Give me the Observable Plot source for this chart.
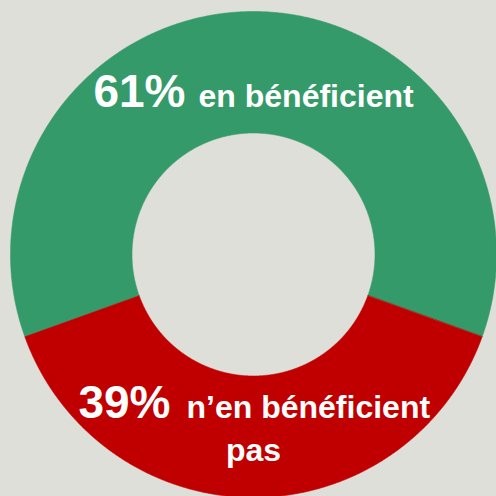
<!DOCTYPE html>
<html><head><meta charset="utf-8">
<script src="https://cdn.jsdelivr.net/npm/d3@7"></script>
<script src="https://cdn.jsdelivr.net/npm/@observablehq/plot@0.6"></script>
<style>html,body{margin:0;padding:0;background:#dfdfda;overflow:hidden}</style>
</head><body><div id="chart"></div>
<script>
// Data
const categories = ["en bénéficient", "n’en bénéficient pas"];
const shares = [61, 39];
const percentLabels = ["61%", "39%"];
const labelFirstLines = ["en bénéficient", "n’en bénéficient"];
const labelSecondLines = ["", "pas"];
const colors = ["#359a69", "#c00000"];

// Geometry (data units: outer radius = 1)
const innerR = 0.5;
const total = d3.sum(shares);
const a0 = Math.PI + (shares[1] / total) * Math.PI; // second slice centred at bottom
const arcs = d3.pie().sort(null).startAngle(a0).endAngle(a0 + 2 * Math.PI)(shares)
  .map((p, i) => ({...p, cat: categories[i], i}));

const step = Math.PI / 720;
const polys = [];
for (const a of arcs) {
  const n = Math.max(2, Math.ceil((a.endAngle - a.startAngle) / step));
  for (let k = 0; k <= n; k++) {
    const t = a.startAngle + (a.endAngle - a.startAngle) * k / n;
    polys.push({cat: a.cat, x: Math.sin(t), y: Math.cos(t)});
  }
  for (let k = n; k >= 0; k--) {
    const t = a.startAngle + (a.endAngle - a.startAngle) * k / n;
    polys.push({cat: a.cat, x: innerR * Math.sin(t), y: innerR * Math.cos(t)});
  }
}
const labelR = (1 + innerR) / 2;
const labels = arcs.map(a => {
  const m = (a.startAngle + a.endAngle) / 2;
  return {x: labelR * Math.sin(m), y: labelR * Math.cos(m), i: a.i};
});

const W = 496, H = 496, R = 243, cx = 253, cy = 254;
const font = "'Liberation Sans', Arial, sans-serif";
const common = {fill: "white", fontWeight: "bold", lineAnchor: "bottom", fontFamily: font};

const chart = Plot.plot({
  width: W, height: H, margin: 0,
  style: {background: "#dfdfda", fontFamily: font},
  x: {domain: [-cx / R, (W - cx) / R], range: [0, W], axis: null},
  y: {domain: [-(H - cy) / R, cy / R], range: [H, 0], axis: null},
  color: {domain: categories, range: colors},
  marks: [
    Plot.line(polys, {x: "x", y: "y", z: "cat", fill: "cat", stroke: "cat", strokeWidth: 0.6, curve: "linear-closed"}),
    // top slice label
    Plot.text([labels[0]], {...common, x: "x", y: "y", text: d => percentLabels[d.i], textAnchor: "end", dx: -68, dy: 35, fontSize: 46}),
    Plot.text([labels[0]], {...common, x: "x", y: "y", text: d => labelFirstLines[d.i], textAnchor: "start", dx: -55, dy: 35, fontSize: 32}),
    // bottom slice label
    Plot.text([labels[1]], {...common, x: "x", y: "y", text: d => percentLabels[d.i], textAnchor: "end", dx: -83, dy: -19, fontSize: 46}),
    Plot.text([labels[1]], {...common, x: "x", y: "y", text: d => labelFirstLines[d.i], textAnchor: "start", dx: -67, dy: -19, fontSize: 32}),
    Plot.text([labels[1]], {...common, x: "x", y: "y", text: d => labelSecondLines[d.i], textAnchor: "middle", dx: 0, dy: 24, fontSize: 32})
  ]
});
document.getElementById("chart").appendChild(chart);
</script>
</body></html>
